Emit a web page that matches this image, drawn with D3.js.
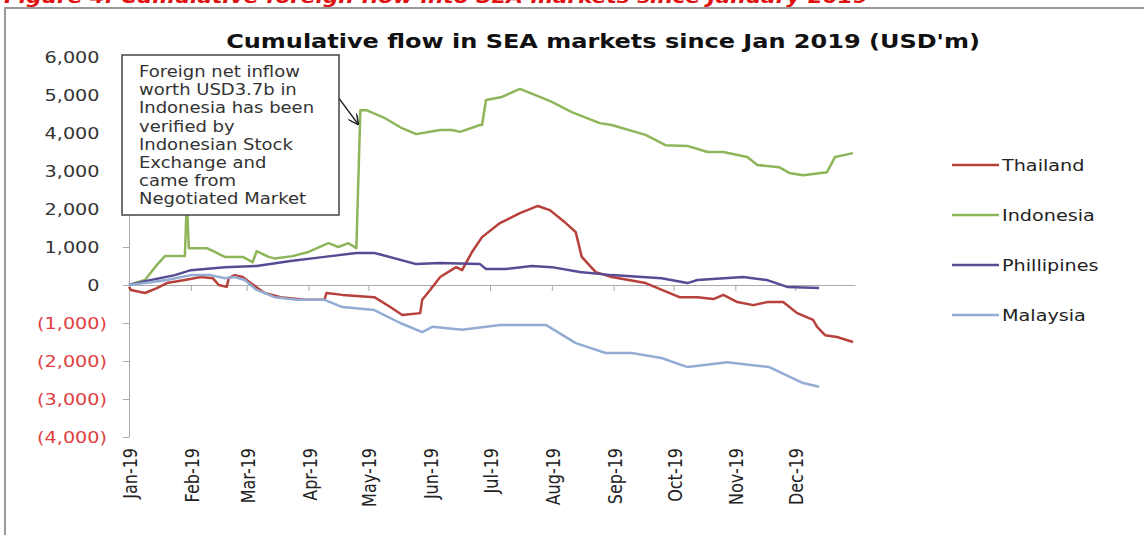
<!DOCTYPE html>
<html>
<head>
<meta charset="utf-8">
<script src="https://cdn.jsdelivr.net/npm/d3@7"></script>
<style>
  body { margin: 0; background: #fff; }
  text { font-family: "DejaVu Sans", Verdana, sans-serif; }
</style>
</head>
<body>
<div class="canvas"></div>
<script>
// values (USD m, cumulative)
const thDates = ['2019-01-01','2019-01-02','2019-01-09','2019-01-15','2019-01-20','2019-01-29','2019-02-06','2019-02-12','2019-02-15','2019-02-19','2019-02-20','2019-02-23','2019-02-27','2019-03-03','2019-03-10','2019-03-18','2019-03-30','2019-04-09','2019-04-10','2019-04-18','2019-05-04','2019-05-12','2019-05-18','2019-05-27','2019-05-28','2019-06-01','2019-06-06','2019-06-14','2019-06-17','2019-06-22','2019-06-27','2019-07-06','2019-07-16','2019-07-25','2019-07-31','2019-08-08','2019-08-13','2019-08-16','2019-08-23','2019-08-31','2019-09-17','2019-10-04','2019-10-13','2019-10-21','2019-10-26','2019-11-02','2019-11-10','2019-11-17','2019-11-25','2019-12-02','2019-12-10','2019-12-12','2019-12-16','2019-12-22','2019-12-30']
const thVals = [-50,-130,-210,-80,50,130,210,180,0,-50,180,260,210,50,-210,-320,-390,-390,-210,-260,-320,-580,-790,-740,-390,-130,210,470,390,870,1260,1630,1890,2080,1970,1630,1390,740,340,210,50,-320,-320,-370,-260,-450,-530,-450,-450,-740,-920,-1100,-1320,-1370,-1500]

const idDates = ['2019-01-01','2019-01-09','2019-01-15','2019-01-19','2019-01-29','2019-01-30','2019-01-31','2019-02-09','2019-02-13','2019-02-18','2019-02-27','2019-03-04','2019-03-06','2019-03-12','2019-03-15','2019-03-24','2019-04-01','2019-04-11','2019-04-16','2019-04-21','2019-04-25','2019-04-27','2019-04-30','2019-05-09','2019-05-17','2019-05-25','2019-06-06','2019-06-12','2019-06-16','2019-06-26','2019-06-27','2019-06-29','2019-07-07','2019-07-16','2019-07-26','2019-08-01','2019-08-11','2019-08-25','2019-08-31','2019-09-17','2019-09-27','2019-10-08','2019-10-18','2019-10-26','2019-11-07','2019-11-12','2019-11-23','2019-11-28','2019-12-05','2019-12-17','2019-12-21','2019-12-30']
const idVals = [0,130,530,760,760,2200,970,970,870,740,740,600,890,740,700,760,870,1100,1000,1100,970,4600,4600,4400,4150,3970,4080,4080,4030,4210,4210,4870,4950,5160,4950,4820,4550,4260,4210,3950,3680,3660,3500,3500,3370,3160,3100,2950,2890,2970,3370,3470]

const phDates = ['2019-01-01','2019-01-09','2019-01-24','2019-02-01','2019-02-18','2019-03-06','2019-03-23','2019-04-09','2019-04-25','2019-05-04','2019-05-08','2019-05-25','2019-06-06','2019-06-26','2019-06-29','2019-07-09','2019-07-22','2019-08-01','2019-08-15','2019-08-31','2019-09-25','2019-10-08','2019-10-13','2019-11-05','2019-11-17','2019-11-27','2019-12-13']
const phVals = [0,100,260,390,470,500,630,740,840,840,790,550,580,550,420,420,500,470,340,260,180,50,130,210,130,-50,-80]

const myDates = ['2019-01-01','2019-01-09','2019-01-20','2019-02-01','2019-02-11','2019-02-18','2019-02-23','2019-02-28','2019-03-06','2019-03-15','2019-03-26','2019-04-09','2019-04-18','2019-05-04','2019-05-17','2019-05-28','2019-06-02','2019-06-17','2019-07-06','2019-07-29','2019-08-13','2019-08-28','2019-09-10','2019-09-25','2019-10-08','2019-10-28','2019-11-18','2019-12-05','2019-12-13']
const myVals = [0,50,130,260,260,180,210,130,-130,-320,-390,-390,-580,-660,-1000,-1240,-1100,-1180,-1050,-1050,-1530,-1790,-1790,-1920,-2160,-2030,-2160,-2580,-2680]

const seriesNames = ['Thailand','Indonesia','Phillipines','Malaysia']
const yTicks = [6000,5000,4000,3000,2000,1000,0,-1000,-2000,-3000,-4000]
const monthLabels = ['Jan-19','Feb-19','Mar-19','Apr-19','May-19','Jun-19','Jul-19','Aug-19','Sep-19','Oct-19','Nov-19','Dec-19']
const noteLines = ['Foreign net inflow','worth USD3.7b in','Indonesia has been','verified by','Indonesian Stock','Exchange and','came from','Negotiated Market']

const colors = ['#b8403a','#8fb55a','#574c94','#93acd4']
const SX = 1.2   // the picture is a bit stretched sideways

const parse = d3.timeParse('%Y-%m-%d')
const zip = (ds, vs) => ds.map((d, i) => ({date: parse(d), value: vs[i]}))
const series = [zip(thDates, thVals), zip(idDates, idVals), zip(phDates, phVals), zip(myDates, myVals)]

const svg = d3.select('.canvas')
    .append('svg')
    .attr('width', 1144)
    .attr('height', 535)

// caption above the frame, mostly cut off like in the source
svg.append('text')
    .attr('transform', `translate(4,3) scale(${SX},1)`)
    .attr('font-size', 18)
    .attr('font-weight', 'bold')
    .attr('font-style', 'italic')
    .attr('fill', '#e01010')
    .text('Figure 4: Cumulative foreign flow into SEA markets since January 2019')

// frame
svg.append('path')
    .attr('d', 'M5,535 V8 H1144')
    .attr('fill', 'none')
    .attr('stroke', '#999')
    .attr('stroke-width', 2)

const x = d3.scaleTime()
    .domain([new Date(2019, 0, 1), new Date(2019, 11, 31)])
    .range([129, 855])
const y = d3.scaleLinear()
    .domain([-4000, 6000])
    .range([437, 57])

svg.append('text')
    .attr('transform', `translate(603,48) scale(${SX},1)`)
    .attr('text-anchor', 'middle')
    .attr('font-size', 20)
    .attr('font-weight', 'bold')
    .attr('fill', '#111')
    .text("Cumulative flow in SEA markets since Jan 2019 (USD'm)")

// y axis
const yAxisGroup = svg.append('g')
    .attr('transform', 'translate(129,0)')
    .call(d3.axisLeft(y).tickValues(yTicks).tickSize(6).tickSizeOuter(0).tickFormat(''))
yAxisGroup.selectAll('path, line').attr('stroke', '#aaa')

svg.selectAll('.ylab')
    .data(yTicks)
    .enter()
    .append('text')
    .attr('class', 'ylab')
    .attr('transform', d => `translate(${d < 0 ? 107 : 99.5},${y(d) + 6}) scale(${SX},1)`)
    .attr('text-anchor', 'end')
    .attr('font-size', 16)
    .attr('fill', d => d < 0 ? '#e0403f' : '#333')
    .text(d => d < 0 ? `(${d3.format(',')(-d)})` : d3.format(',')(d))

// x axis on the zero line
const months = d3.timeMonths(new Date(2019, 0, 1), new Date(2019, 11, 2))
const xAxisGroup = svg.append('g')
    .attr('transform', `translate(0,${y(0)})`)
    .call(d3.axisBottom(x).tickValues(months).tickSize(6).tickSizeOuter(0).tickFormat(''))
xAxisGroup.selectAll('path, line').attr('stroke', '#aaa')

svg.selectAll('.xlab')
    .data(months)
    .enter()
    .append('text')
    .attr('class', 'xlab')
    .attr('transform', d => `translate(${x(d) + 8},448) scale(${SX},1) rotate(-90)`)
    .attr('text-anchor', 'end')
    .attr('font-family', '"Liberation Sans", Arial, sans-serif')
    .attr('font-size', 16)
    .attr('fill', '#222')
    .text((d, i) => monthLabels[i])

// lines
const line = d3.line()
    .x(d => x(d.date))
    .y(d => y(d.value))

svg.selectAll('.series')
    .data(series)
    .enter()
    .append('path')
    .attr('class', 'series')
    .attr('d', line)
    .attr('fill', 'none')
    .attr('stroke', (d, i) => colors[i])
    .attr('stroke-width', 2.5)
    .attr('stroke-linejoin', 'round')

// legend
const legend = svg.selectAll('.legend')
    .data(seriesNames)
    .enter()
    .append('g')
    .attr('class', 'legend')
    .attr('transform', (d, i) => `translate(952,${165 + i * 50})`)
legend.append('line')
    .attr('x1', 0).attr('x2', 47)
    .attr('stroke', (d, i) => colors[i])
    .attr('stroke-width', 2.5)
legend.append('text')
    .attr('transform', `translate(50,6) scale(${SX},1)`)
    .attr('font-size', 16)
    .attr('fill', '#222')
    .text(d => d)

// annotation
svg.append('defs').append('marker')
    .attr('id', 'arrow')
    .attr('viewBox', '0 0 10 10')
    .attr('refX', 9).attr('refY', 5)
    .attr('markerWidth', 8).attr('markerHeight', 8)
    .attr('orient', 'auto')
    .append('path')
    .attr('d', 'M0,0 L10,5 L0,10')
    .attr('fill', 'none')
    .attr('stroke', '#222')
    .attr('stroke-width', 1.5)

svg.append('line')
    .attr('x1', 338).attr('y1', 97)
    .attr('x2', 358).attr('y2', 124)
    .attr('stroke', '#222')
    .attr('stroke-width', 1.3)
    .attr('marker-end', 'url(#arrow)')

svg.append('rect')
    .attr('x', 122).attr('y', 55)
    .attr('width', 217).attr('height', 160)
    .attr('fill', '#fff')
    .attr('stroke', '#444')
    .attr('stroke-width', 1.5)

svg.selectAll('.note')
    .data(noteLines)
    .enter()
    .append('text')
    .attr('class', 'note')
    .attr('transform', (d, i) => `translate(139,${77 + i * 18.2}) scale(${SX},1)`)
    .attr('font-size', 15)
    .attr('fill', '#333')
    .text(d => d)
</script>
</body>
</html>
